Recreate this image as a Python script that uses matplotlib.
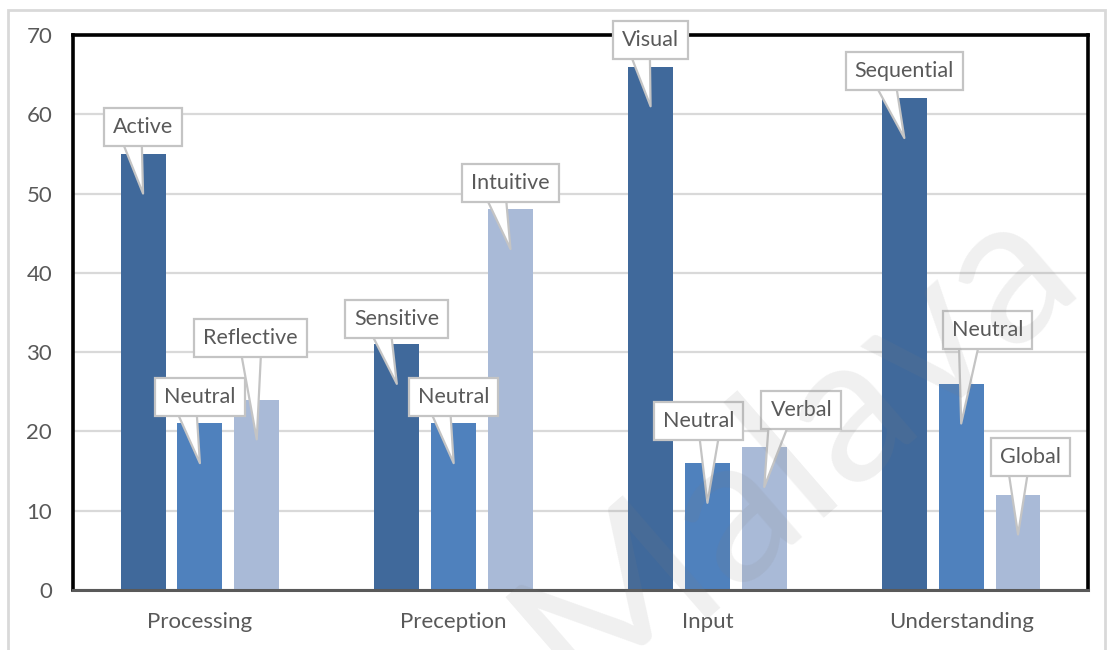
import matplotlib
matplotlib.use("Agg")
import matplotlib.pyplot as plt
from matplotlib.patches import Rectangle
import numpy as np

# data
categories = ["Processing", "Preception", "Input", "Understanding"]
first_vals = [55, 31, 66, 62]
neutral_vals = [21, 21, 16, 26]
second_vals = [24, 48, 18, 12]
first_names = ["Active", "Sensitive", "Visual", "Sequential"]
second_names = ["Reflective", "Intuitive", "Verbal", "Global"]

colors = ["#40699B", "#4F81BD", "#A9BAD7"]
grey_txt = "#595959"

plt.rcParams['font.family'] = ['Lato', 'DejaVu Sans']

fig = plt.figure(figsize=(11.13, 6.5), dpi=100)
ax = fig.add_axes([0.0656, 0.0923, 0.912, 0.854])

x = np.arange(len(categories))
width = 0.177
step = 0.224
series = [first_vals, neutral_vals, second_vals]
for k, vals in enumerate(series):
    ax.bar(x + (k - 1) * step, vals, width, color=colors[k], zorder=2)

ax.set_xlim(-0.5, 3.5)
ax.set_ylim(0, 70)
ax.set_yticks(range(0, 71, 10))
ax.yaxis.grid(True, color="#d9d9d9", lw=1.6, zorder=0)
ax.set_axisbelow(True)
ax.set_xticks(x)
ax.set_xticklabels(categories)
ax.tick_params(axis="both", length=0, labelsize=16, labelcolor=grey_txt)
ax.tick_params(axis="y", pad=15)
ax.tick_params(axis="x", pad=16)
for s in ["left", "top", "right"]:
    ax.spines[s].set_color("black")
    ax.spines[s].set_linewidth(2.6)
ax.spines["bottom"].set_color(grey_txt)
ax.spines["bottom"].set_linewidth(2.2)

# callout layout: (dx in category units, dy above bar, relpos x of pointer)
layout = [
    [(0.0, 3.4, 0.3), (0.0, 3.3, 0.3), (-0.024, 7.8, 0.5)],
    [(0.0, 3.2, 0.3), (0.0, 3.3, 0.3), (0.0, 3.3, 0.3)],
    [(0.0, 3.4, 0.3), (-0.035, 5.3, 0.65), (0.146, 4.7, 0.15)],
    [(0.0, 3.4, 0.3), (0.103, 6.8, 0.25), (0.049, 4.8, 0.3)],
]

for i in range(len(categories)):
    names = [first_names[i], "Neutral", second_names[i]]
    for k in range(3):
        v = series[k][i]
        bx = x[i] + (k - 1) * step
        dx, dy, rx = layout[i][k]
        ax.annotate(names[k], xy=(bx, v - 5), xytext=(bx + dx, v + dy),
                    ha="center", va="center", fontsize=15.5, color=grey_txt,
                    zorder=5,
                    bbox=dict(boxstyle="square,pad=0.42", fc="white",
                              ec="#c4c4c4", lw=1.6),
                    arrowprops=dict(arrowstyle="wedge,tail_width=1.0,shrink_factor=0.5",
                                    fc="white", ec="#c4c4c4", lw=1.6,
                                    relpos=(rx, 0.1), shrinkA=0, shrinkB=0,
                                    patchA=None))

# outer frame
fig.patches.append(Rectangle((8 / 1113, -0.02), 1097 / 1113, 0.012 + 645 / 650,
                             transform=fig.transFigure, fill=False,
                             ec="#d9d9d9", lw=2))

# watermark
fig.text(0.715, 0.31, "Malava", rotation=41, fontsize=150, color="grey",
         alpha=0.12, ha="center", va="center", zorder=10)

fig.savefig("out.png", dpi=100)
